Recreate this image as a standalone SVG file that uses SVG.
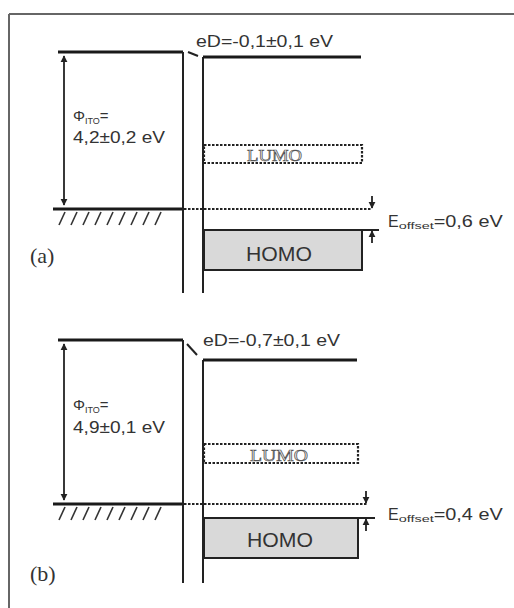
<svg xmlns="http://www.w3.org/2000/svg" width="514" height="608" viewBox="0 0 514 608">
<defs>
<style>
.frame{stroke:#666;stroke-width:2;fill:none}
.thick{stroke:#1a1a1a;stroke-width:2.8;fill:none}
.thin{stroke:#222;stroke-width:2;fill:none}
.dash{stroke:#222;stroke-width:2.2;fill:none;stroke-dasharray:2.5 1.5}
.hatch{stroke:#333;stroke-width:1.6}
.arr{stroke:#222;stroke-width:1.8;fill:none}
.t{font-family:"Liberation Sans",Arial,sans-serif;fill:#333}
.lab{font-family:"Liberation Serif","Times New Roman",serif;fill:#333;font-size:22px}
.lumo{font-family:"Liberation Serif","Times New Roman",serif;fill:#eee;stroke:#555;stroke-width:0.7;font-size:17px}
.homo{fill:#d9d9d9;stroke:#222;stroke-width:2}
</style>
<marker id="ah" viewBox="0 0 10 10" refX="9" refY="5" markerWidth="4" markerHeight="4" orient="auto-start-reverse">
<path d="M0,0 L10,5 L0,10 z" fill="#222"/>
</marker>
</defs>
<g id="frame">
<line class="frame" x1="9" y1="14" x2="514" y2="14"/>
<line class="frame" x1="9" y1="14" x2="9" y2="608"/>
</g>
<g id="metal-a">
<line class="thick" x1="58" y1="52" x2="183" y2="52"/>
<line class="thick" x1="53" y1="209" x2="183" y2="209"/>
<line class="thin" x1="183" y1="52" x2="183" y2="293"/>
<g class="hatch">
<line x1="65" y1="212" x2="59" y2="225"/><line x1="77" y1="212" x2="71" y2="225"/><line x1="89" y1="212" x2="83" y2="225"/><line x1="101" y1="212" x2="95" y2="225"/><line x1="113" y1="212" x2="107" y2="225"/><line x1="125" y1="212" x2="119" y2="225"/><line x1="137" y1="212" x2="131" y2="225"/><line x1="149" y1="212" x2="143" y2="225"/><line x1="161" y1="212" x2="155" y2="225"/>
</g>
<text class="t" x="73" y="121" font-size="15">Φ<tspan font-size="9" dy="3">ITO</tspan><tspan dy="-3">=</tspan></text>
<text class="t" x="73" y="143" font-size="16" textLength="92" lengthAdjust="spacingAndGlyphs">4,2±0,2 eV</text>
<text class="lab" x="30" y="263">(a)</text>
</g>
<g id="organic-a">
<line class="thin" x1="203" y1="57" x2="203" y2="293"/>
<line class="thick" x1="203" y1="57" x2="361" y2="57"/>
<text class="t" x="196" y="47" font-size="16" textLength="137" lengthAdjust="spacingAndGlyphs">eD=-0,1±0,1 eV</text>
</g>
<g id="lumo-a">
<rect class="dash" x="204" y="145" width="158" height="18"/>
<text class="lumo" x="247" y="161" textLength="55" lengthAdjust="spacingAndGlyphs">LUMO</text>
</g>
<g id="homo-a">
<rect class="homo" x="204" y="230" width="158" height="40"/>
<line class="thin" x1="362" y1="230" x2="379" y2="230"/>
<text class="t" x="246" y="261" font-size="20" textLength="66" lengthAdjust="spacingAndGlyphs">HOMO</text>
</g>
<g id="offset-a">
<text class="t" x="388" y="227" font-size="16">E<tspan font-size="9" dy="2" textLength="35" lengthAdjust="spacingAndGlyphs">offset</tspan><tspan dy="-2" textLength="69" lengthAdjust="spacingAndGlyphs">=0,6 eV</tspan></text>
</g>
<g id="metal-b">
<line class="thick" x1="58" y1="340" x2="183" y2="340"/>
<line class="thick" x1="53" y1="504" x2="183" y2="504"/>
<line class="thin" x1="183" y1="340" x2="183" y2="583"/>
<g class="hatch">
<line x1="65" y1="507" x2="59" y2="520"/><line x1="77" y1="507" x2="71" y2="520"/><line x1="89" y1="507" x2="83" y2="520"/><line x1="101" y1="507" x2="95" y2="520"/><line x1="113" y1="507" x2="107" y2="520"/><line x1="125" y1="507" x2="119" y2="520"/><line x1="137" y1="507" x2="131" y2="520"/><line x1="149" y1="507" x2="143" y2="520"/><line x1="161" y1="507" x2="155" y2="520"/>
</g>
<text class="t" x="73" y="410" font-size="15">Φ<tspan font-size="9" dy="3">ITO</tspan><tspan dy="-3">=</tspan></text>
<text class="t" x="73" y="433" font-size="16" textLength="92" lengthAdjust="spacingAndGlyphs">4,9±0,1 eV</text>
<text class="lab" x="30" y="581">(b)</text>
</g>
<g id="organic-b">
<line class="thin" x1="203" y1="360" x2="203" y2="583"/>
<line class="thick" x1="203" y1="360" x2="357" y2="360"/>
<text class="t" x="203" y="346" font-size="16" textLength="137" lengthAdjust="spacingAndGlyphs">eD=-0,7±0,1 eV</text>
</g>
<g id="lumo-b">
<rect class="dash" x="204" y="444" width="154" height="19"/>
<text class="lumo" x="250" y="461" textLength="58" lengthAdjust="spacingAndGlyphs">LUMO</text>
</g>
<g id="homo-b">
<rect class="homo" x="204" y="518" width="154" height="40"/>
<line class="thin" x1="358" y1="518" x2="375" y2="518"/>
<text class="t" x="247" y="547" font-size="20" textLength="66" lengthAdjust="spacingAndGlyphs">HOMO</text>
</g>
<g id="offset-b">
<text class="t" x="388" y="520" font-size="16">E<tspan font-size="9" dy="2" textLength="35" lengthAdjust="spacingAndGlyphs">offset</tspan><tspan dy="-2" textLength="69" lengthAdjust="spacingAndGlyphs">=0,4 eV</tspan></text>
</g>
<g id="connectors">
<line class="arr" x1="64" y1="56" x2="64" y2="205" marker-start="url(#ah)" marker-end="url(#ah)"/>
<line class="dash" x1="184" y1="209" x2="372" y2="209"/>
<line class="arr" x1="372" y1="196" x2="372" y2="208" marker-end="url(#ah)"/>
<line class="arr" x1="372" y1="243" x2="372" y2="231" marker-end="url(#ah)"/>
<line class="thin" stroke-width="1.2" x1="188" y1="52" x2="198" y2="56"/>
<line class="arr" x1="64" y1="344" x2="64" y2="500" marker-start="url(#ah)" marker-end="url(#ah)"/>
<line class="dash" x1="184" y1="504" x2="367" y2="504"/>
<line class="arr" x1="366" y1="491" x2="366" y2="503" marker-end="url(#ah)"/>
<line class="arr" x1="366" y1="531" x2="366" y2="519" marker-end="url(#ah)"/>
<line class="thin" stroke-width="1.2" x1="187" y1="344" x2="197" y2="355"/>
</g>
</svg>
